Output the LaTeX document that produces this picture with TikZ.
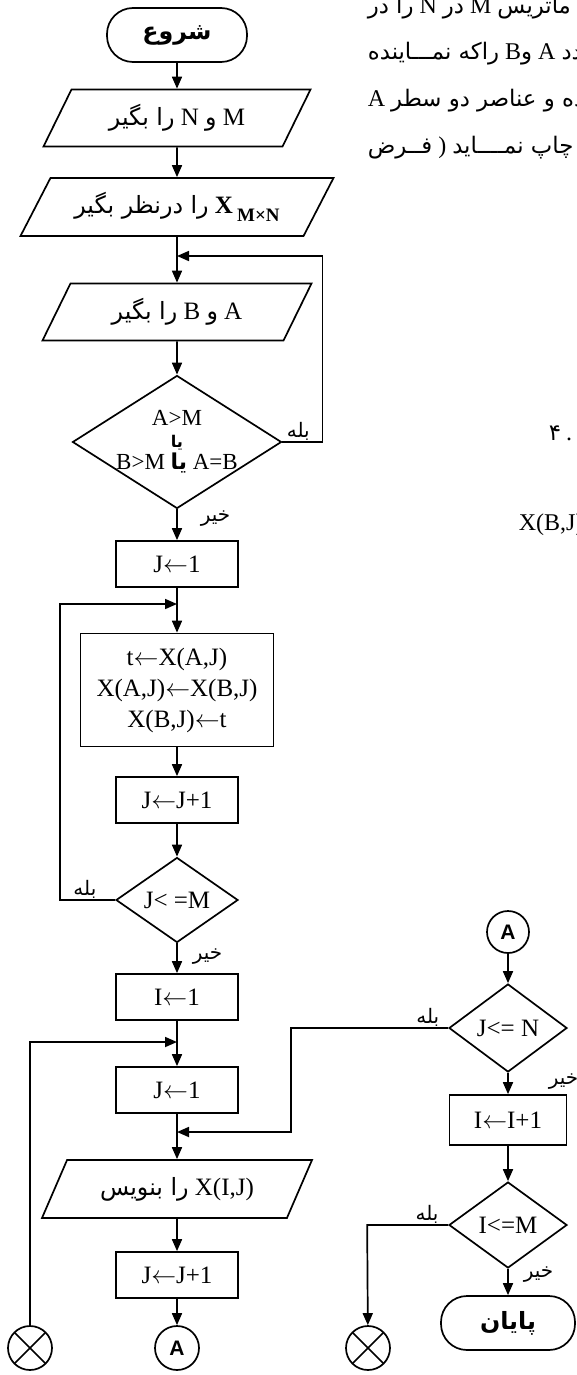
\documentclass[tikz,border=0pt]{standalone}
\usepackage{fontspec}
\setmainfont{Liberation Serif}
\newfontfamily\fafont[Script=Arabic, Scale=0.95]{DejaVu Sans}
\newfontfamily\labelsans{Liberation Sans}
\usepackage{tikz}
\usetikzlibrary{shapes.geometric, arrows.meta, positioning, calc}
\TeXXeTstate=1
\newcommand{\rtlline}[1]{\beginR#1\endR}
\newcommand{\ltrbit}[1]{\beginL#1\endL}

\begin{document}
\begin{tikzpicture}[x=1pt, y=-1pt, line width=1.7pt,
    >={Triangle[length=12pt,width=10pt]},
    every node/.style={font=\fontsize{25}{31}\selectfont},
    terminal/.style={draw, rectangle, rounded corners=26pt, minimum width=140pt, minimum height=54pt, font=\fontsize{25}{28}\selectfont\fafont\bfseries},
    io/.style={draw, trapezium, trapezium left angle=48, trapezium right angle=132, trapezium stretches body, minimum height=57pt, inner sep=2pt},
    proc/.style={draw, rectangle, minimum width=122pt, minimum height=46pt},
    decision/.style={draw, diamond, aspect=1.5, inner sep=0pt},
    connector/.style={draw, circle, minimum size=44pt, inner sep=0pt},
    joinmark/.style={connector, path picture={\draw (path picture bounding box.north west) -- (path picture bounding box.south east) (path picture bounding box.south west) -- (path picture bounding box.north east);}},
    lbl/.style={font=\fontsize{21}{22}\selectfont\fafont, inner sep=1pt},
    pagetext/.style={font=\fontsize{24}{28}\selectfont, inner sep=0pt}]
\useasboundingbox (0,0) rectangle (576,1375);

% Input and first test
\node[terminal] (start) at (177,35) {شروع};
\node[io, minimum width=267pt] (readMN) at (177,118) {\rtlline{\ltrbit{M} {\fafont و} \ltrbit{N} {\fafont را بگیر}}};
\node[io, minimum width=313pt, minimum height=58pt] (defX) at (177,207) {\rtlline{\ltrbit{\textbf{X}\,\raisebox{-8pt}{\fontsize{19}{19}\selectfont\bfseries M×N}} {\fafont را درنظر بگیر}}};
\coordinate (backAB) at (177,256);
\node[io, minimum width=269pt] (readAB) at (177,312) {\rtlline{\ltrbit{A} {\fafont و} \ltrbit{B} {\fafont را بگیر}}};
\node[decision, minimum width=209pt, minimum height=133pt, inner sep=-6pt, align=center, font=\fontsize{23}{22}\selectfont] (testAB) at (177,442)
    {A>M\\{\fafont\bfseries\fontsize{17}{22}\selectfont یا}\\\rtlline{\ltrbit{A=B} {\fafont\bfseries یا} \ltrbit{B>M}}};

% Swap the two rows
\node[proc] (setJ) at (177,564) {J$\leftarrow$1};
\coordinate (backJ) at (177,604);
\node[proc, minimum width=193pt, minimum height=113pt, align=center] (swap) at (177,690) {t$\leftarrow$X(A,J)\\X(A,J)$\leftarrow$X(B,J)\\X(B,J)$\leftarrow$t};
\node[proc] (incJ) at (177,800) {J$\leftarrow$J+1};
\node[decision, minimum width=122pt, minimum height=85pt] (testJ) at (177,900) {J< =M};

% Print the matrix
\node[proc] (setI) at (177,997) {I$\leftarrow$1};
\coordinate (backI) at (177,1042);
\node[proc] (setJb) at (177,1090) {J$\leftarrow$1};
\coordinate (backJN) at (177,1132);
\node[io, minimum width=270pt, minimum height=58pt] (writeX) at (177,1189) {\rtlline{\ltrbit{X(I,J)} {\fafont را بنویس}}};
\node[proc] (incJb) at (177,1275) {J$\leftarrow$J+1};
\node[connector, font=\fontsize{21}{24}\selectfont\labelsans\bfseries] (conA) at (177,1348) {A};
\node[joinmark] (joinL) at (30,1348) {};

% Right column
\node[connector, minimum size=42pt, font=\fontsize{21}{24}\selectfont\labelsans\bfseries] (conAb) at (508,932) {A};
\node[decision, minimum width=118pt, minimum height=88pt] (testJN) at (508,1028) {J<= N};
\node[proc, minimum width=117pt, minimum height=50pt] (incI) at (508,1120) {I$\leftarrow$I+1};
\node[decision, minimum width=118pt, minimum height=86pt] (testI) at (508,1225) {I<=M};
\node[terminal, minimum width=134pt] (stop) at (508,1323) {پایان};
\node[joinmark] (joinR) at (368,1348) {};

% Flow
\draw[->] (start) -- (readMN);
\draw[->] (readMN) -- (defX);
\draw[->] (defX) -- (readAB);
\draw[->] (readAB) -- (testAB);
\draw[->] (testAB) -- node[lbl, right=22pt, pos=0.3] {خیر} (setJ);
\draw[->] (testAB.east) -- node[lbl, above, pos=0.4] {بله} ++(40,0) |- (backAB);
\draw[->] (setJ) -- (swap);
\draw[->] (swap) -- (incJ);
\draw[->] (incJ) -- (testJ);
\draw[->] (testJ.west) -- node[lbl, above, pos=0.55] {بله} ++(-55,0) |- (backJ);
\draw[->] (testJ) -- node[lbl, right=14pt, pos=0.45] {خیر} (setI);
\draw[->] (setI) -- (setJb);
\draw[->] (joinL) |- (backI);
\draw[->] (setJb) -- (writeX);
\draw[->] (writeX) -- (incJb);
\draw[->] (incJb) -- (conA);
\draw[->] (conAb) -- (testJN);
\draw[->] (testJN.west) -- node[lbl, above, pos=0.13] {بله} ++(-157,0) |- (backJN);
\draw[->] (testJN) -- node[lbl, right=39pt, pos=0.4] {خیر} (incI);
\draw[->] (incI) -- (testI);
\draw[->] (testI) -- node[lbl, right=14pt, pos=0.2] {خیر} (stop);
\draw[->] (testI.west) -- node[lbl, above, pos=0.26] {بله} ++(-81,0) -- (joinR);

% Cut text of the page
\begin{scope}
\clip (0,0) rectangle (576,1375);
\node[pagetext, anchor=base west] (txtA) at (367,14) {\rtlline{{\fafont یک ماتریس} \ltrbit{M} {\fafont در} \ltrbit{N} {\fafont را در}}};
\node[pagetext, anchor=base west] (txtB) at (367,60) {\rtlline{{\fafont عدد} A {\fafont و}B {\fafont راکه نمـــاینده}}};
\node[pagetext, anchor=base west] (txtC) at (367,107) {\rtlline{{\fafont شده و عناصر دو سطر} A}};
\node[pagetext, anchor=base west] (txtD) at (367,154) {\rtlline{{\fafont را چاپ نمــــاید} ) {\fafont فــرض}}};
\node[pagetext, anchor=base west] (txtE) at (548,440) {{\fafont ۴}\hspace{5pt}.};
\node[pagetext, anchor=base west] (txtF) at (518,530) {X(B,J)};
\end{scope}
\end{tikzpicture}
\end{document}
